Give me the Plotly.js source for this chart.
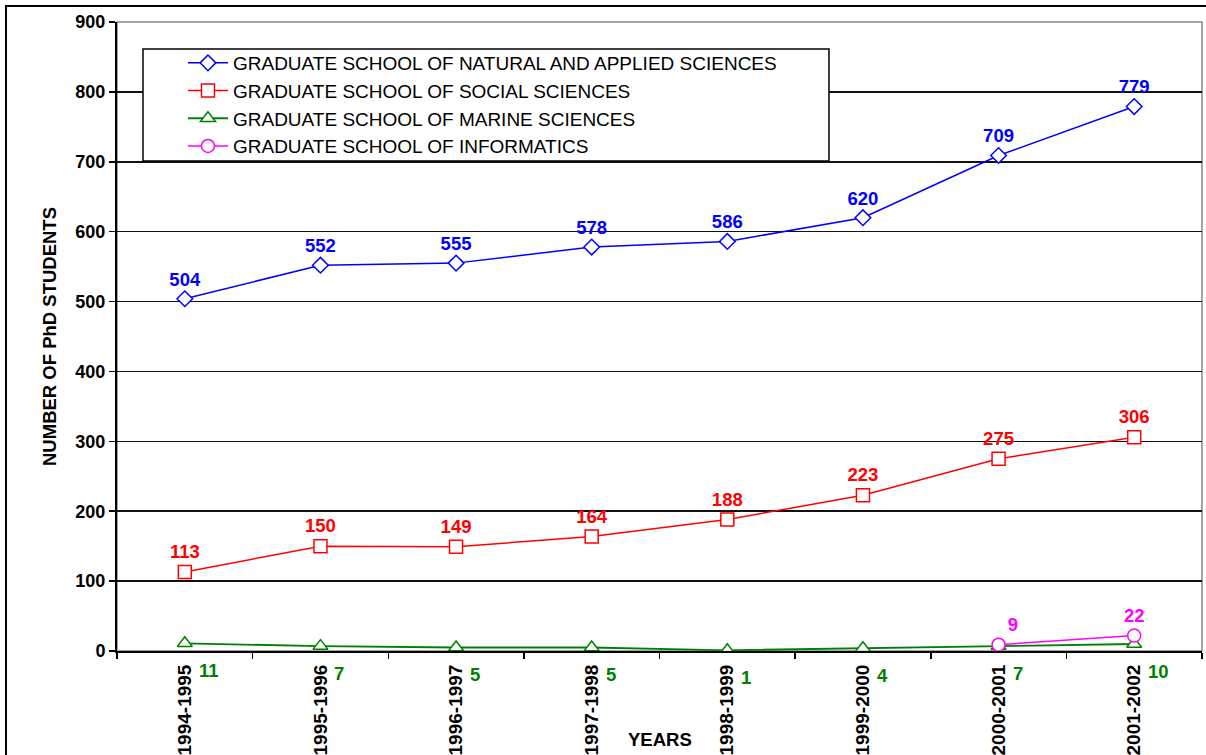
<!DOCTYPE html>
<html>
<head>
<meta charset="utf-8">
<script src="https://cdn.plot.ly/plotly-3.0.1.min.js"></script>
<style>html,body{margin:0;padding:0;background:#fff;}#chart{width:1206px;height:755px;}</style>
</head>
<body>
<div id="chart"></div>
<script>
var years = ["1994-1995","1995-1996","1996-1997","1997-1998","1998-1999","1999-2000","2000-2001","2001-2002"];
var natural = [504,552,555,578,586,620,709,779];
var social = [113,150,149,164,188,223,275,306];
var marine = [11,7,5,5,1,4,7,10];
var informatics = [null,null,null,null,null,null,9,22];
var seriesNames = ["GRADUATE SCHOOL OF NATURAL AND APPLIED SCIENCES","GRADUATE SCHOOL OF SOCIAL SCIENCES","GRADUATE SCHOOL OF MARINE SCIENCES","GRADUATE SCHOOL OF INFORMATICS"];
var yTicks = [0,100,200,300,400,500,600,700,800,900];

var F = "Arial, 'Liberation Sans', sans-serif";
function lbl(arr){return arr.map(function(v){return v===null?"":String(v);});}

var traces = [
  {x:years,y:natural,name:seriesNames[0],mode:"lines+markers+text",text:lbl(natural),textposition:"top center",
   textfont:{family:F,size:18.5,color:"#0000ff",weight:"bold"},
   line:{color:"#0000ff",width:1.5},marker:{symbol:"diamond",size:12,color:"#fff",line:{color:"#0000ff",width:1.5}}},
  {x:years,y:social,name:seriesNames[1],mode:"lines+markers+text",text:lbl(social),textposition:"top center",
   textfont:{family:F,size:18.5,color:"#ff0000",weight:"bold"},
   line:{color:"#ff0000",width:1.5},marker:{symbol:"square",size:13,color:"#fff",line:{color:"#ff0000",width:1.5}}},
  {x:years,y:marine,name:seriesNames[2],mode:"lines+markers",
   line:{color:"#008000",width:1.8},marker:{symbol:"triangle-up",size:13,color:"#fff",line:{color:"#008000",width:1.5}}},
  {x:years,y:informatics,name:seriesNames[3],mode:"lines+markers+text",text:lbl(informatics),textposition:["","","","","","","top right","top center"],
   textfont:{family:F,size:18.5,color:"#ff00ff",weight:"bold"},
   line:{color:"#ff00ff",width:1.5},marker:{symbol:"circle",size:13,color:"#fff",line:{color:"#ff00ff",width:1.5}}}
];

var annotations = marine.map(function(v,i){
  return {x:years[i],y:v,xref:"x",yref:"y",text:String(v),showarrow:false,xanchor:"left",yanchor:"middle",xshift:12,yshift:-27,
    font:{family:F,size:18.5,color:"#008000",weight:"bold"}};
});
annotations.push({x:0.5,y:-0.141,xref:"paper",yref:"paper",text:"<b>YEARS</b>",showarrow:false,xanchor:"center",yanchor:"middle",
  font:{family:F,size:18.5,color:"#000"}});

var layout = {
  width:1206,height:755,
  margin:{l:117,r:4,t:22,b:104},
  paper_bgcolor:"#fff",plot_bgcolor:"#fff",
  showlegend:true,
  legend:{x:0.0608,y:0.965,xanchor:"left",yanchor:"top",bgcolor:"rgba(0,0,0,0)",borderwidth:0,
    font:{family:F,size:19,color:"#000"},itemwidth:40},
  xaxis:{type:"category",range:[-0.5,7.5],tickson:"boundaries",ticks:"outside",ticklen:6,tickcolor:"#000",tickwidth:1.5,
    tickangle:-90,ticklabelstandoff:4,tickfont:{family:F,size:19,color:"#000",weight:"bold"},showgrid:false,showline:true,linecolor:"#000",linewidth:2,
    zeroline:false,fixedrange:true},
  yaxis:{range:[0,900],tickvals:yTicks,ticktext:yTicks.map(String),ticks:"outside",ticklen:6,tickcolor:"#000",tickwidth:1.5,
    tickfont:{family:F,size:18,color:"#000",weight:"bold"},showgrid:true,gridcolor:"#111",gridwidth:1.5,
    showline:true,linecolor:"#000",linewidth:2,zeroline:false,
    title:{text:"NUMBER OF PhD STUDENTS",font:{family:F,size:18.5,color:"#000",weight:"bold"},standoff:14}},
  shapes:[
    {type:"rect",xref:"paper",yref:"paper",x0:0,x1:1,y0:0,y1:1,line:{color:"#888",width:1.5},layer:"below"},
    {type:"rect",xref:"paper",yref:"paper",x0:0.02396,x1:0.6562,y0:0.779,y1:0.9571,fillcolor:"#fff",line:{color:"#000",width:1.5},layer:"above"},
    {type:"rect",xref:"paper",yref:"paper",x0:-0.1023,x1:1.2,y0:-0.5,y1:1.0254,line:{color:"#000",width:2},layer:"above"}
  ],
  annotations:annotations
};
Plotly.newPlot("chart",traces,layout,{displayModeBar:false,staticPlot:true});
</script>
</body>
</html>
